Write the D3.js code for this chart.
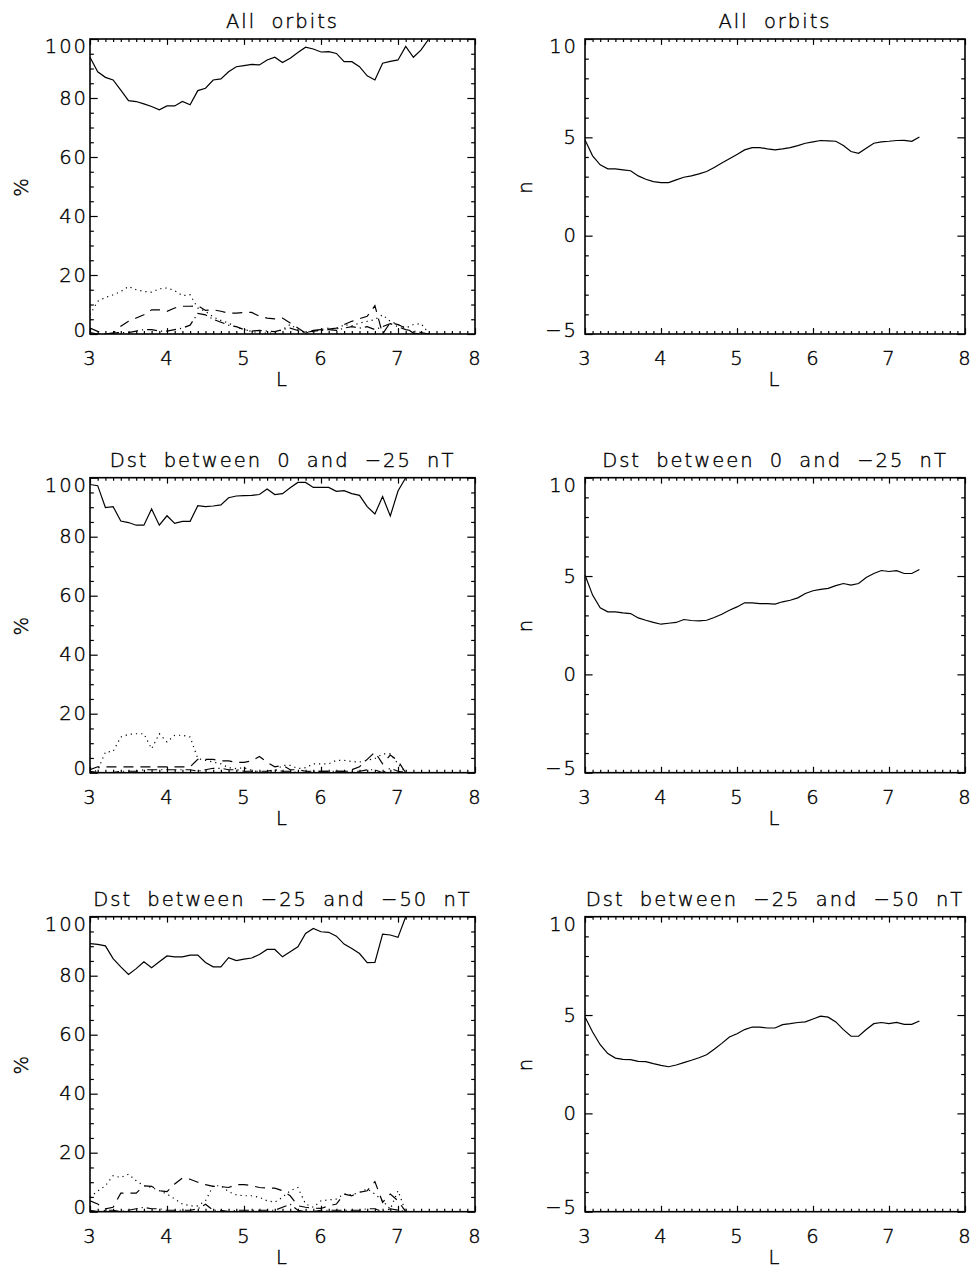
<!DOCTYPE html>
<html>
<head>
<meta charset="utf-8">
<script src="https://cdn.jsdelivr.net/npm/d3@7"></script>
<style>
body { margin: 0; background: #fff; }
svg text { font-family: "DejaVu Sans", sans-serif; font-weight: 200; font-size: 19.5px; letter-spacing: 2px; word-spacing: 7px; fill: #000; stroke: #000; stroke-width: 0.4px; }
</style>
</head>
<body>
<svg id="fig" width="974" height="1268"></svg>
<script>
// L grid (0.1 steps) used by every curve
const lGrid = [3.0, 3.1, 3.2, 3.3, 3.4, 3.5, 3.6, 3.7, 3.8, 3.9, 4.0, 4.1, 4.2, 4.3, 4.4, 4.5, 4.6, 4.7, 4.8, 4.9,
	5.0, 5.1, 5.2, 5.3, 5.4, 5.5, 5.6, 5.7, 5.8, 5.9, 6.0, 6.1, 6.2, 6.3, 6.4, 6.5, 6.6, 6.7, 6.8, 6.9,
	7.0, 7.1, 7.2, 7.3, 7.4];

const titles = ['All orbits', 'Dst between 0 and \u221225 nT', 'Dst between \u221225 and \u221250 nT'];
const lTicks = [3, 4, 5, 6, 7, 8];
const pctTicks = [0, 20, 40, 60, 80, 100];
const nTicks = [-5, 0, 5, 10];

/* % panels: solid, dotted, dashed, dash-dot */
const allSolid = [93.8, 88.9, 87.0, 86.1, 82.7, 79.1, 78.8, 78.0, 77.1, 76.0, 77.3, 77.3, 78.8, 77.7, 82.5, 83.3, 86.1, 86.5, 88.9, 90.6,
	91.0, 91.4, 91.2, 92.9, 93.8, 92.0, 93.5, 95.4, 97.2, 96.6, 95.6, 95.7, 95.1, 92.3, 92.3, 90.6, 87.5, 86.1, 91.8, 92.4,
	92.9, 97.5, 93.8, 96.3, 100];
const allDotted = [6.5, 11.1, 12.4, 13.3, 14.4, 16.1, 15.0, 14.4, 14.2, 15.3, 15.6, 14.7, 13.0, 13.3, 8.8, 7.7, 5.8, 4.6, 3.7, 2.3,
	1.5, 0.9, 0.3, 0.3, 0.3, 1.5, 3.2, 1.5, 0.3, 0.9, 1.5, 2.0, 1.5, 3.2, 2.8, 3.7, 4.3, 4.9, 6.5, 4.3,
	3.2, 2.0, 3.2, 3.5, 0.3];
const allDashed = [2.0, 0.9, 0, 0.3, 2.6, 4.3, 5.4, 6.5, 8.2, 8.2, 7.7, 8.8, 9.4, 9.4, 9.6, 8.0, 8.2, 7.7, 7.1, 7.1,
	7.3, 7.3, 6.0, 5.4, 5.1, 5.4, 3.7, 2.0, 0.3, 1.2, 1.5, 1.7, 2.0, 3.2, 4.3, 5.2, 6.0, 9.6, 0, 3.9,
	3.2, 2.0, 0.3, 0, 0];
const allDashDot = [0.5, 0, 0, 0.3, 0.5, 0.5, 1.0, 1.5, 1.5, 1.0, 1.0, 1.5, 2.0, 3.0, 7.0, 6.5, 5.0, 4.0, 3.0, 2.5,
	1.5, 1.0, 1.2, 1.0, 0.8, 1.5, 2.0, 1.2, 0.5, 1.0, 1.2, 1.5, 1.2, 2.0, 2.5, 2.0, 2.5, 1.5, 2.5, 3.5,
	2.5, 1.5, 1.0, 0.5, 0];

const quietSolid = [97.7, 97.3, 89.9, 90.2, 85.3, 84.8, 83.9, 83.9, 89.4, 83.9, 87.1, 84.5, 85.2, 85.2, 90.5, 90.2, 90.4, 90.8, 93.2, 93.8,
	93.9, 94.0, 94.3, 96.2, 94.3, 94.6, 96.6, 98.4, 98.4, 96.7, 96.7, 96.7, 95.4, 95.6, 94.6, 94.0, 90.2, 87.7, 93.6, 87.0,
	95.5, 100];
const quietDotted = [0, 0.8, 7.0, 7.2, 12.1, 13.0, 13.2, 13.2, 8.1, 13.2, 10.4, 12.7, 12.7, 12.1, 4.8, 4.2, 3.6, 3.0, 1.7, 1.4,
	1.7, 0.8, 0.2, 0.2, 0.6, 2.5, 2.5, 1.4, 1.7, 3.0, 3.0, 3.0, 4.2, 4.2, 3.8, 3.6, 4.2, 4.8, 6.4, 6.4,
	3.0, 0];
const quietDashed = [1.0, 2.0, 2.0, 2.0, 2.0, 2.0, 2.0, 2.0, 2.0, 2.0, 2.0, 2.0, 2.0, 2.0, 4.5, 4.5, 4.5, 4.0, 4.0, 3.5,
	3.5, 4.0, 5.5, 3.5, 2.0, 2.5, 1.0, 1.0, 0.5, 0.5, 0.5, 0.5, 0.5, 0.5, 1.0, 2.0, 4.5, 7.0, 3.0, 6.0,
	4.0, 0];
const quietDashDot = [0.5, 0, 0, 0, 0.5, 0.5, 0.5, 1.0, 1.0, 1.0, 1.0, 1.0, 1.0, 1.0, 0.5, 1.0, 1.5, 1.5, 1.0, 1.0,
	0.5, 0.5, 0.5, 0.5, 1.0, 0.5, 0.5, 0, 0, 0.5, 0.5, 0.5, 0.5, 0.5, 0.5, 0.5, 1.0, 1.0, 0, 1.5,
	0.5, 0];

const modSolid = [90.9, 90.6, 90.1, 85.8, 83.0, 80.4, 82.4, 84.7, 82.7, 84.7, 86.7, 86.4, 86.4, 87.0, 87.0, 84.5, 83.0, 83.0, 86.1, 85.1,
	85.6, 86.0, 87.2, 88.9, 88.9, 86.4, 88.1, 89.8, 94.3, 96.0, 94.9, 94.7, 93.4, 90.7, 89.2, 87.5, 84.4, 84.5, 94.1, 93.8,
	93.0, 100];
const modDotted = [4.9, 7.0, 8.8, 12.2, 11.6, 12.7, 10.5, 8.8, 8.2, 7.1, 6.0, 4.3, 2.6, 2.0, 2.0, 3.7, 8.8, 8.8, 6.8, 5.7,
	5.4, 5.4, 4.9, 3.7, 3.2, 4.9, 7.1, 8.2, 2.6, 1.5, 3.7, 4.0, 4.3, 6.0, 5.7, 6.6, 7.7, 6.0, 3.7, 0.9,
	7.1, 0];
const modDashed = [3.7, 2.6, 1.0, 1.5, 6.3, 6.3, 6.3, 8.8, 8.6, 7.1, 6.8, 9.4, 11.4, 11.0, 10.0, 9.2, 8.6, 8.5, 8.2, 9.2,
	9.2, 8.8, 8.2, 8.0, 8.0, 7.1, 5.4, 2.0, 1.5, 1.2, 1.1, 2.0, 2.6, 6.0, 5.4, 6.6, 7.1, 10.2, 3.2, 6.0,
	3.7, 0];
const modDashDot = [0.5, 0, 0.5, 0.5, 0, 0.5, 1.0, 1.5, 1.0, 1.0, 0.5, 0.5, 0.5, 0.5, 1.0, 2.5, 0.5, 0.5, 0, 0.5,
	0.5, 0.5, 0.5, 0.5, 0.5, 1.5, 2.5, 0.5, 0, 0, 0.5, 0.5, 0.5, 0.5, 0.5, 0.5, 1.0, 1.0, 0, 1.0,
	0.5, 0];

/* n panels */
const allN = [4.87, 4.06, 3.60, 3.40, 3.40, 3.35, 3.30, 3.04, 2.87, 2.75, 2.70, 2.70, 2.84, 2.97, 3.04, 3.14, 3.26, 3.47, 3.69, 3.91,
	4.13, 4.36, 4.48, 4.48, 4.41, 4.36, 4.41, 4.48, 4.58, 4.70, 4.77, 4.84, 4.82, 4.80, 4.58, 4.28, 4.19, 4.45, 4.70, 4.77,
	4.80, 4.84, 4.85, 4.80, 5.02];
const quietN = [5.05, 4.03, 3.38, 3.18, 3.18, 3.13, 3.09, 2.87, 2.75, 2.64, 2.55, 2.60, 2.64, 2.79, 2.74, 2.72, 2.75, 2.89, 3.06, 3.26,
	3.43, 3.64, 3.64, 3.60, 3.60, 3.57, 3.69, 3.77, 3.89, 4.11, 4.25, 4.32, 4.37, 4.51, 4.62, 4.54, 4.62, 4.93, 5.13, 5.28,
	5.23, 5.27, 5.13, 5.13, 5.33];
const modN = [4.90, 4.14, 3.49, 3.04, 2.81, 2.75, 2.73, 2.64, 2.63, 2.53, 2.44, 2.37, 2.46, 2.58, 2.70, 2.83, 2.98, 3.26, 3.56, 3.88,
	4.05, 4.26, 4.39, 4.39, 4.34, 4.34, 4.51, 4.56, 4.62, 4.65, 4.80, 4.94, 4.89, 4.65, 4.26, 3.92, 3.92, 4.26, 4.56, 4.62,
	4.56, 4.63, 4.53, 4.53, 4.70];

const pctSets = [
	[allSolid, allDotted, allDashed, allDashDot],
	[quietSolid, quietDotted, quietDashed, quietDashDot],
	[modSolid, modDotted, modDashed, modDashDot]
];
const nSets = [allN, quietN, modN];

const fig = {
	vars() {
		this.svg = d3.select('#fig');
		this.rowTop = [39, 477.7, 916.7];
		this.plotH = 295;
		this.leftCol = {x0: 90, x1: 475, labelGap: 2, yTitleX: 28};
		this.rightCol = {x0: 585, x1: 965, labelGap: 7, yTitleX: 532};
		this.dashes = [null, '1.2,4', '10,7', '10,4,1.2,4'];
	},
	panel(row, col, yDomain, yMajor, yMinorStep, yTitle, series, dashes) {
		const h = this.plotH;
		const w = col.x1 - col.x0;
		const g = this.svg.append('g').attr('transform', `translate(${col.x0},${this.rowTop[row]})`);
		const x = d3.scaleLinear().domain([3, 8]).range([0, w]);
		const y = d3.scaleLinear().domain(yDomain).range([h, 0]);
		const xLen = 0.02 * h, yLen = 0.02 * w;
		const xMinor = d3.range(3, 8.001, 0.1).filter(v => Math.abs(v - Math.round(v)) > 0.01);
		const yMinor = d3.range(yDomain[0], yDomain[1] + 0.001, yMinorStep).filter(v => !yMajor.includes(v));

		const clipId = `clip-${row}-${col.x0}`;
		g.append('clipPath').attr('id', clipId).append('rect').attr('width', w).attr('height', h);

		/* data lines */
		series.forEach((vals, k) => {
			const line = d3.line().x((d, i) => x(lGrid[i])).y(d => y(d));
			g.append('path')
				.datum(vals)
				.attr('clip-path', `url(#${clipId})`)
				.attr('fill', 'none')
				.attr('stroke', '#000')
				.attr('stroke-width', 1.2)
				.attr('stroke-dasharray', dashes[k])
				.attr('d', line);
		});

		/* axes: ticks point inward on all four sides */
		const styleAxis = sel => {
			sel.select('.domain').remove();
			sel.attr('font-family', null).attr('font-size', null);
			sel.selectAll('line').attr('stroke', '#000').attr('stroke-width', 1.2);
		};
		g.append('g').attr('transform', `translate(0,${h})`)
			.call(d3.axisBottom(x).tickValues(lTicks).tickSize(-xLen).tickSizeOuter(0).tickPadding(17).tickFormat(d3.format('d')))
			.call(styleAxis);
		g.append('g').attr('transform', `translate(0,${h})`)
			.call(d3.axisBottom(x).tickValues(xMinor).tickSize(-xLen / 2).tickSizeOuter(0).tickFormat(''))
			.call(styleAxis);
		g.append('g')
			.call(d3.axisTop(x).tickValues(lTicks).tickSize(-xLen).tickSizeOuter(0).tickFormat(''))
			.call(styleAxis);
		g.append('g')
			.call(d3.axisTop(x).tickValues(xMinor).tickSize(-xLen / 2).tickSizeOuter(0).tickFormat(''))
			.call(styleAxis);

		const yAxis = g.append('g')
			.call(d3.axisLeft(y).tickValues(yMajor).tickSize(-yLen).tickSizeOuter(0).tickPadding(col.labelGap)
				.tickFormat(d => d < 0 ? '\u2212' + Math.abs(d) : d))
			.call(styleAxis);
		// keep the end labels inside the frame, like the original
		yAxis.selectAll('.tick text').each(function(d) {
			const ty = y(d);
			const c = Math.max(7.5, Math.min(h - 4, ty));
			d3.select(this).attr('y', c - ty);
		});
		g.append('g')
			.call(d3.axisLeft(y).tickValues(yMinor).tickSize(-yLen / 2).tickSizeOuter(0).tickFormat(''))
			.call(styleAxis);
		g.append('g').attr('transform', `translate(${w},0)`)
			.call(d3.axisRight(y).tickValues(yMajor).tickSize(-yLen).tickSizeOuter(0).tickFormat(''))
			.call(styleAxis);
		g.append('g').attr('transform', `translate(${w},0)`)
			.call(d3.axisRight(y).tickValues(yMinor).tickSize(-yLen / 2).tickSizeOuter(0).tickFormat(''))
			.call(styleAxis);

		/* frame */
		g.append('rect').attr('width', w).attr('height', h)
			.attr('fill', 'none').attr('stroke', '#000').attr('stroke-width', 1.6);

		/* titles */
		g.append('text').attr('x', w / 2).attr('y', -11).attr('text-anchor', 'middle').text(titles[row]);
		g.append('text').attr('x', w / 2).attr('y', h + 52).attr('text-anchor', 'middle').text('L');
		g.append('text')
			.attr('transform', `translate(${col.yTitleX - col.x0},${h / 2}) rotate(-90)`)
			.attr('text-anchor', 'middle')
			.text(yTitle);
	},
	init() {
		this.vars();
		for (let r = 0; r < 3; r++) {
			this.panel(r, this.leftCol, [0, 100], pctTicks, 5, '%', pctSets[r], this.dashes);
			this.panel(r, this.rightCol, [-5, 10], nTicks, 1, 'n', [nSets[r]], this.dashes);
		}
	}
};

fig.init();
</script>
</body>
</html>
